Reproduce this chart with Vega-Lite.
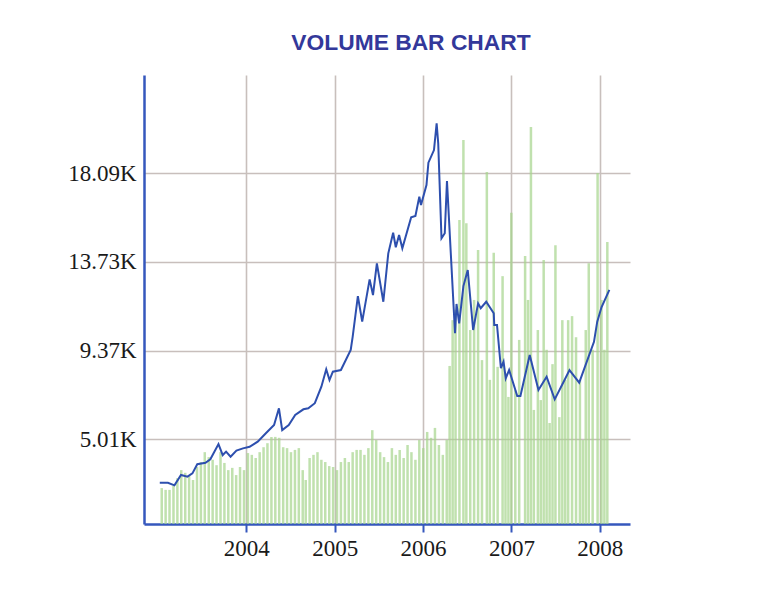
{
  "$schema": "https://vega.github.io/schema/vega-lite/v6.json",
  "width": 486,
  "height": 449,
  "autosize": {"type": "none"},
  "padding": {"left": 144, "top": 75, "right": 144, "bottom": 72},
  "background": "white",
  "title": {
    "text": "VOLUME BAR CHART",
    "font": "Liberation Sans",
    "fontSize": 22.8,
    "fontWeight": "bold",
    "color": "#33389a",
    "anchor": "middle",
    "frame": "group",
    "dx": 24,
    "offset": 2,
    "baseline": "alphabetic"
  },
  "datasets": {
    "price": [
      {"year": 2003.022, "close": 2870}, {"year": 2003.114, "close": 2870},
      {"year": 2003.188, "close": 2740}, {"year": 2003.262, "close": 3250},
      {"year": 2003.335, "close": 3170}, {"year": 2003.391, "close": 3330},
      {"year": 2003.446, "close": 3780}, {"year": 2003.539, "close": 3850},
      {"year": 2003.594, "close": 4020}, {"year": 2003.686, "close": 4770},
      {"year": 2003.734, "close": 4230}, {"year": 2003.772, "close": 4400},
      {"year": 2003.823, "close": 4150}, {"year": 2003.889, "close": 4450},
      {"year": 2003.963, "close": 4560}, {"year": 2004.038, "close": 4640},
      {"year": 2004.130, "close": 4890}, {"year": 2004.222, "close": 5300},
      {"year": 2004.315, "close": 5710}, {"year": 2004.370, "close": 6530},
      {"year": 2004.407, "close": 5460}, {"year": 2004.481, "close": 5710},
      {"year": 2004.554, "close": 6200}, {"year": 2004.647, "close": 6480},
      {"year": 2004.702, "close": 6530}, {"year": 2004.776, "close": 6780},
      {"year": 2004.850, "close": 7590}, {"year": 2004.905, "close": 8450},
      {"year": 2004.942, "close": 7920}, {"year": 2004.980, "close": 8330},
      {"year": 2005.071, "close": 8410}, {"year": 2005.182, "close": 9400},
      {"year": 2005.204, "close": 10040}, {"year": 2005.263, "close": 12050},
      {"year": 2005.312, "close": 10790}, {"year": 2005.396, "close": 12870},
      {"year": 2005.434, "close": 12100}, {"year": 2005.478, "close": 13660},
      {"year": 2005.551, "close": 11770}, {"year": 2005.607, "close": 14150},
      {"year": 2005.662, "close": 15160}, {"year": 2005.692, "close": 14450},
      {"year": 2005.729, "close": 15050}, {"year": 2005.766, "close": 14400},
      {"year": 2005.866, "close": 15920}, {"year": 2005.914, "close": 15990},
      {"year": 2005.958, "close": 16940}, {"year": 2005.977, "close": 16530},
      {"year": 2006.039, "close": 17510}, {"year": 2006.061, "close": 18610},
      {"year": 2006.124, "close": 19230}, {"year": 2006.154, "close": 20540},
      {"year": 2006.172, "close": 19560}, {"year": 2006.209, "close": 14890},
      {"year": 2006.246, "close": 15140}, {"year": 2006.271, "close": 17710},
      {"year": 2006.362, "close": 10220}, {"year": 2006.379, "close": 11660},
      {"year": 2006.409, "close": 10710}, {"year": 2006.457, "close": 12540},
      {"year": 2006.506, "close": 13330}, {"year": 2006.567, "close": 10380},
      {"year": 2006.623, "close": 11690}, {"year": 2006.653, "close": 11450},
      {"year": 2006.715, "close": 11770}, {"year": 2006.800, "close": 11200},
      {"year": 2006.806, "close": 10630}, {"year": 2006.837, "close": 10630},
      {"year": 2006.881, "close": 8500}, {"year": 2006.911, "close": 8820},
      {"year": 2006.936, "close": 8000}, {"year": 2006.974, "close": 8410},
      {"year": 2007.066, "close": 7130}, {"year": 2007.102, "close": 7130},
      {"year": 2007.207, "close": 9150}, {"year": 2007.306, "close": 7430},
      {"year": 2007.398, "close": 8080}, {"year": 2007.490, "close": 6970},
      {"year": 2007.601, "close": 7920}, {"year": 2007.657, "close": 8410},
      {"year": 2007.767, "close": 7790}, {"year": 2007.934, "close": 9800},
      {"year": 2007.971, "close": 10790}, {"year": 2008.019, "close": 11500},
      {"year": 2008.108, "close": 12350}
    ],
    "volume": [
      {"year": 2003.044, "vol": 8.0}, {"year": 2003.088, "vol": 7.6}, {"year": 2003.132, "vol": 7.6},
      {"year": 2003.177, "vol": 8.5}, {"year": 2003.221, "vol": 10.2}, {"year": 2003.265, "vol": 12.0},
      {"year": 2003.310, "vol": 11.4}, {"year": 2003.354, "vol": 10.7}, {"year": 2003.398, "vol": 9.8},
      {"year": 2003.443, "vol": 12.7}, {"year": 2003.487, "vol": 13.8}, {"year": 2003.531, "vol": 16.0},
      {"year": 2003.576, "vol": 14.9}, {"year": 2003.620, "vol": 14.3}, {"year": 2003.664, "vol": 13.1},
      {"year": 2003.709, "vol": 16.0}, {"year": 2003.753, "vol": 13.6}, {"year": 2003.797, "vol": 12.0},
      {"year": 2003.842, "vol": 12.5}, {"year": 2003.886, "vol": 10.9}, {"year": 2003.930, "vol": 12.7},
      {"year": 2003.975, "vol": 12.0}, {"year": 2004.019, "vol": 15.8}, {"year": 2004.063, "vol": 15.4},
      {"year": 2004.107, "vol": 14.7}, {"year": 2004.152, "vol": 16.0}, {"year": 2004.196, "vol": 17.1},
      {"year": 2004.240, "vol": 18.0}, {"year": 2004.285, "vol": 19.4}, {"year": 2004.329, "vol": 19.4},
      {"year": 2004.373, "vol": 19.2}, {"year": 2004.418, "vol": 17.1}, {"year": 2004.462, "vol": 16.9},
      {"year": 2004.506, "vol": 16.0}, {"year": 2004.551, "vol": 16.5}, {"year": 2004.595, "vol": 16.9},
      {"year": 2004.639, "vol": 12.0}, {"year": 2004.673, "vol": 9.8}, {"year": 2004.717, "vol": 14.7},
      {"year": 2004.761, "vol": 15.4}, {"year": 2004.806, "vol": 16.0}, {"year": 2004.850, "vol": 14.3},
      {"year": 2004.894, "vol": 13.8}, {"year": 2004.939, "vol": 12.9}, {"year": 2004.983, "vol": 12.7},
      {"year": 2005.027, "vol": 12.0}, {"year": 2005.071, "vol": 13.8}, {"year": 2005.116, "vol": 14.7},
      {"year": 2005.160, "vol": 13.8}, {"year": 2005.204, "vol": 16.0}, {"year": 2005.249, "vol": 16.5},
      {"year": 2005.293, "vol": 16.5}, {"year": 2005.337, "vol": 15.4}, {"year": 2005.382, "vol": 16.9},
      {"year": 2005.426, "vol": 20.9}, {"year": 2005.470, "vol": 18.7}, {"year": 2005.515, "vol": 16.0},
      {"year": 2005.559, "vol": 14.9}, {"year": 2005.603, "vol": 13.8}, {"year": 2005.648, "vol": 16.9},
      {"year": 2005.692, "vol": 15.4}, {"year": 2005.736, "vol": 16.5}, {"year": 2005.781, "vol": 14.7},
      {"year": 2005.825, "vol": 17.6}, {"year": 2005.869, "vol": 16.0}, {"year": 2005.914, "vol": 14.3},
      {"year": 2005.958, "vol": 18.7}, {"year": 2006.002, "vol": 16.9}, {"year": 2006.047, "vol": 20.5},
      {"year": 2006.091, "vol": 19.2}, {"year": 2006.135, "vol": 21.4}, {"year": 2006.180, "vol": 17.6},
      {"year": 2006.224, "vol": 15.4}, {"year": 2006.268, "vol": 18.7}, {"year": 2006.301, "vol": 35.2},
      {"year": 2006.335, "vol": 45.4}, {"year": 2006.368, "vol": 47.7}, {"year": 2006.412, "vol": 67.7},
      {"year": 2006.457, "vol": 85.5}, {"year": 2006.490, "vol": 67.0}, {"year": 2006.534, "vol": 43.2},
      {"year": 2006.578, "vol": 49.9}, {"year": 2006.623, "vol": 61.0}, {"year": 2006.667, "vol": 36.5},
      {"year": 2006.722, "vol": 78.4}, {"year": 2006.756, "vol": 32.1}, {"year": 2006.800, "vol": 60.4},
      {"year": 2006.844, "vol": 35.0}, {"year": 2006.900, "vol": 55.2}, {"year": 2006.933, "vol": 33.6},
      {"year": 2006.966, "vol": 28.3}, {"year": 2006.999, "vol": 69.3}, {"year": 2007.044, "vol": 29.8},
      {"year": 2007.088, "vol": 41.0}, {"year": 2007.155, "vol": 59.7}, {"year": 2007.188, "vol": 49.9},
      {"year": 2007.221, "vol": 88.4}, {"year": 2007.254, "vol": 25.4}, {"year": 2007.299, "vol": 43.2},
      {"year": 2007.332, "vol": 27.6}, {"year": 2007.365, "vol": 58.8}, {"year": 2007.398, "vol": 38.8},
      {"year": 2007.432, "vol": 22.5}, {"year": 2007.465, "vol": 35.6}, {"year": 2007.498, "vol": 62.1},
      {"year": 2007.542, "vol": 23.8}, {"year": 2007.576, "vol": 45.4}, {"year": 2007.609, "vol": 32.1},
      {"year": 2007.642, "vol": 45.4}, {"year": 2007.686, "vol": 46.3}, {"year": 2007.731, "vol": 41.6},
      {"year": 2007.775, "vol": 32.1}, {"year": 2007.808, "vol": 18.7}, {"year": 2007.841, "vol": 43.2},
      {"year": 2007.875, "vol": 58.1}, {"year": 2007.919, "vol": 38.8}, {"year": 2007.975, "vol": 78.2},
      {"year": 2008.019, "vol": 49.9}, {"year": 2008.052, "vol": 38.8}, {"year": 2008.085, "vol": 62.8}
    ]
  },
  "encoding": {
    "x": {
      "field": "year",
      "type": "quantitative",
      "scale": {"domain": [2002.9, 2008.285], "nice": false, "zero": false},
      "axis": {
        "title": null,
        "values": [2004, 2005, 2006, 2007, 2008],
        "format": "d",
        "labelFont": "Liberation Serif",
        "labelFontSize": 23,
        "labelColor": "#1a1a1a",
        "labelPadding": 5,
        "tickSize": 8,
        "tickWidth": 2,
        "tickColor": "#3557bd",
        "domainColor": "#3557bd",
        "domainWidth": 2.5,
        "grid": true,
        "gridColor": "#c8bfbc",
        "gridWidth": 1.6
      }
    }
  },
  "layer": [
    {
      "data": {"name": "volume"},
      "mark": {"type": "bar", "size": 2.5, "color": "#a5d48c", "opacity": 0.7},
      "encoding": {
        "y": {
          "field": "vol",
          "type": "quantitative",
          "scale": {"domain": [0, 100], "nice": false},
          "axis": null
        }
      }
    },
    {
      "data": {"name": "price"},
      "mark": {"type": "line", "color": "#2d4fae", "strokeWidth": 2, "interpolate": "linear"},
      "encoding": {
        "y": {
          "field": "close",
          "type": "quantitative",
          "scale": {"domain": [840, 22920], "nice": false, "zero": false},
          "axis": {
            "title": null,
            "values": [5010, 9370, 13730, 18090],
            "labelExpr": "format(datum.value / 1000, '.2f') + 'K'",
            "labelFont": "Liberation Serif",
            "labelFontSize": 23,
            "labelColor": "#1a1a1a",
            "labelPadding": 8,
            "ticks": false,
            "domainColor": "#3557bd",
            "domainWidth": 2.5,
            "grid": true,
            "gridColor": "#c8bfbc",
            "gridWidth": 1.6
          }
        }
      }
    }
  ],
  "resolve": {"scale": {"y": "independent"}},
  "config": {
    "view": {"stroke": null}
  }
}
